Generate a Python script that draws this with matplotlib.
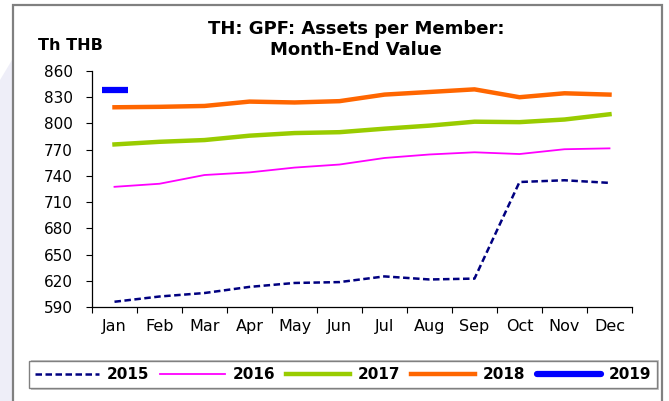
import matplotlib
matplotlib.use("Agg")
import matplotlib.pyplot as plt
from matplotlib.patches import Rectangle, Polygon
from matplotlib.lines import Line2D

months = ["Jan", "Feb", "Mar", "Apr", "May", "Jun", "Jul", "Aug", "Sep", "Oct", "Nov", "Dec"]
s2015 = [596, 602, 606, 613, 617.5, 618.5, 625, 621.5, 622.5, 733, 735, 732]
s2016 = [727.5, 731, 741, 744, 749.5, 753, 760.5, 764.5, 767, 765, 770.5, 771.5]
s2017 = [776, 779, 781, 786, 789, 790, 794, 797.5, 802, 801.5, 804.5, 810.5]
s2018 = [818.5, 819, 820, 825, 824, 825.5, 833, 836, 839, 830, 834.5, 833]
s2019 = [838]
yticks = [590, 620, 650, 680, 710, 740, 770, 800, 830, 860]

W, H = 669, 401
plt.rcParams["font.family"] = ["DejaVu Sans"]
fig = plt.figure(figsize=(W / 100, H / 100), dpi=100)
fig.patch.set_facecolor("white")

# background lavender strip and outer frame
fig.patches.append(Polygon([(0, 0), (12 / W, 0), (12 / W, 1 - 60 / H), (0, 1 - 80 / H)],
                           closed=True, transform=fig.transFigure, facecolor="#EEEEF8",
                           edgecolor="none", zorder=0))
fig.patches.append(Rectangle((13 / W, -0.05), (662 - 13) / W, 1.05 - 5 / H,
                             transform=fig.transFigure, facecolor="none",
                             edgecolor="#808080", linewidth=1.6, zorder=1))

ax = fig.add_axes([92 / W, 1 - 307 / H, (632 - 92) / W, (307 - 71) / H])
ax.set_facecolor("none")
x = [i + 0.5 for i in range(len(months))]

dash = (0, (2.6, 1.4))
ax.plot(x, s2015, color="#000080", lw=1.8, ls=dash, label="2015")
ax.plot(x, s2016, color="#FF00FF", lw=1.3, label="2016")
ax.plot(x, s2017, color="#99CC00", lw=3.2, label="2017")
ax.plot(x, s2018, color="#FF6600", lw=3.2, label="2018")
ax.plot(x[:len(s2019)], s2019, color="#0000FF", lw=4.5, marker="_", markersize=19,
        markeredgewidth=4.5, label="2019", solid_capstyle="round")

ax.set_xlim(0, 12)
ax.set_ylim(590, 860)
ax.set_yticks(yticks)
ax.set_yticklabels([str(v) for v in yticks], fontsize=11)
ax.set_xticks(range(13))
ax.set_xticklabels([])
ax.set_xticks(x, minor=True)
ax.set_xticklabels(months, minor=True, fontsize=11.5)
ax.tick_params(axis="x", which="minor", length=0, pad=8.5)
ax.tick_params(axis="x", which="major", length=4.5, width=0.8, color="#000000")
ax.tick_params(axis="y", length=4.5, width=0.8, pad=9.5)
for side in ["top", "right"]:
    ax.spines[side].set_visible(False)
for side in ["left", "bottom"]:
    ax.spines[side].set_linewidth(0.9)

fig.text(356 / W, 1 - 29 / H, "TH: GPF: Assets per Member:", ha="center", va="center",
         fontsize=13, fontweight="bold")
fig.text(356 / W, 1 - 50 / H, "Month-End Value", ha="center", va="center",
         fontsize=13, fontweight="bold")
fig.text(38 / W, 1 - 46 / H, "Th THB", ha="left", va="center", fontsize=11.5, fontweight="bold")

handles = [
    Line2D([], [], color="#000080", lw=1.8, ls=dash),
    Line2D([], [], color="#FF00FF", lw=1.3),
    Line2D([], [], color="#99CC00", lw=3.2),
    Line2D([], [], color="#FF6600", lw=3.2),
    Line2D([], [], color="#0000FF", lw=4.5, solid_capstyle="round"),
]
labels = ["2015", "2016", "2017", "2018", "2019"]
# shadow
fig.patches.append(Rectangle((31 / W, 1 - 390 / H), (657 - 29) / W, 30 / H,
                             transform=fig.transFigure, facecolor="#C8C8C8",
                             edgecolor="none", zorder=2))
leg = fig.legend(handles, labels, loc="lower left", ncol=5, mode="expand",
                 bbox_to_anchor=(29 / W, 1 - 388 / H, (657 - 29) / W, 30 / H),
                 borderaxespad=0, frameon=True, fancybox=False, shadow=False,
                 edgecolor="#808080", framealpha=1, handlelength=4.2,
                 handletextpad=0.5, borderpad=0.4, prop={"weight": "bold", "size": 11})
leg.get_frame().set_linewidth(1.0)
leg.set_zorder(3)

fig.savefig("out.png", dpi=100)
